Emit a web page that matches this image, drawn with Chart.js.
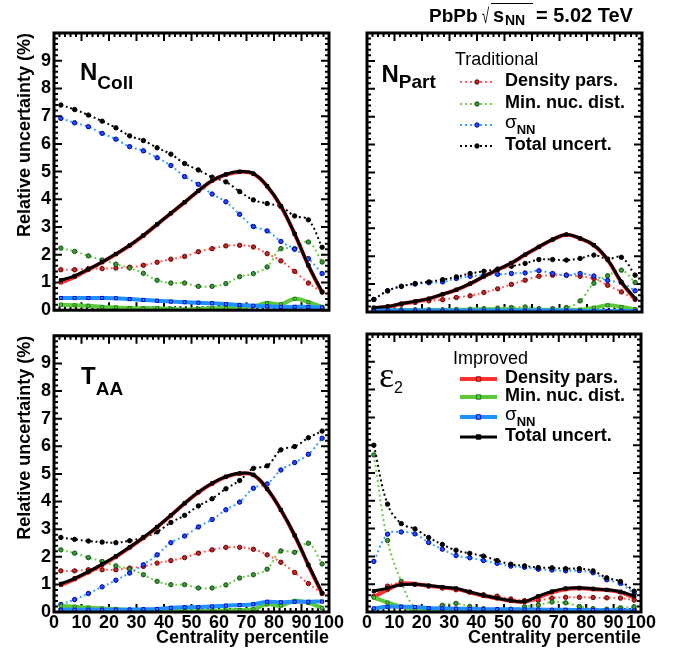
<!DOCTYPE html>
<html>
<head>
<meta charset="utf-8">
<title>Glauber uncertainties</title>
<script src="https://cdn.jsdelivr.net/npm/chart.js@4.4.0/dist/chart.umd.min.js"></script>
<style>
  body { margin: 0; background: #fff; }
  #wrap { position: relative; width: 681px; height: 652px; }
  canvas { position: absolute; }
</style>
</head>
<body>
<div id="wrap">
  <canvas id="ncoll" width="345" height="324" style="left:0;top:0"></canvas>
  <canvas id="npart" width="336" height="324" style="left:345px;top:0"></canvas>
  <canvas id="taa" width="345" height="330" style="left:0;top:322px"></canvas>
  <canvas id="ecc" width="336" height="330" style="left:345px;top:322px"></canvas>
</div>
<script>
// Centro de cada bin de centralidad (5%)
const centrality = [2.5, 7.5, 12.5, 17.5, 22.5, 27.5, 32.5, 37.5, 42.5, 47.5,
                    52.5, 57.5, 62.5, 67.5, 72.5, 77.5, 82.5, 87.5, 92.5, 97.5];
const xTickValues = [0, 10, 20, 30, 40, 50, 60, 70, 80, 90, 100];
const yTickValues = [0, 1, 2, 3, 4, 5, 6, 7, 8, 9];

const seriesNames = ['Density pars.', 'Min. nuc. dist.', 'σ', 'Total uncert.'];
const sigmaSub = 'NN';
const legendHeaders = ['Traditional', 'Improved'];

// N_coll
const ncollTradDensity = [1.46, 1.46, 1.50, 1.50, 1.52, 1.55, 1.62, 1.73, 1.84, 1.94, 2.11, 2.22, 2.32, 2.34, 2.28, 2.04, 1.78, 1.40, 0.98, 0.66];
const ncollTradMinDist = [2.24, 2.12, 1.96, 1.81, 1.66, 1.52, 1.33, 1.08, 0.98, 0.98, 0.86, 0.86, 0.96, 1.21, 1.32, 1.56, 2.22, 2.22, 2.46, 1.74];
const ncollTradSigma   = [6.92, 6.76, 6.62, 6.38, 6.17, 5.90, 5.75, 5.50, 5.22, 4.82, 4.54, 4.19, 3.91, 3.46, 3.02, 2.86, 2.48, 2.20, 1.86, 1.32];
const ncollTradTotal   = [7.40, 7.24, 7.04, 6.82, 6.58, 6.29, 6.12, 5.86, 5.63, 5.29, 5.06, 4.80, 4.63, 4.28, 3.98, 3.85, 3.74, 3.40, 3.26, 2.27];
const ncollImpDensity  = [1.00, 1.20, 1.46, 1.73, 2.02, 2.33, 2.69, 3.09, 3.49, 3.89, 4.30, 4.67, 4.89, 4.99, 4.92, 4.47, 3.75, 2.75, 1.61, 0.64];
const ncollImpMinDist  = [0.20, 0.18, 0.16, 0.12, 0.10, 0.08, 0.07, 0.07, 0.05, 0.02, 0.05, 0.07, 0.08, 0.12, 0.14, 0.26, 0.21, 0.41, 0.29, 0.12];
const ncollImpSigma    = [0.44, 0.44, 0.44, 0.44, 0.43, 0.40, 0.37, 0.34, 0.31, 0.29, 0.27, 0.25, 0.22, 0.19, 0.16, 0.14, 0.12, 0.12, 0.12, 0.10];
const ncollImpTotal    = [1.08, 1.24, 1.48, 1.74, 2.03, 2.34, 2.70, 3.10, 3.50, 3.90, 4.31, 4.68, 4.90, 5.00, 4.93, 4.48, 3.76, 2.76, 1.62, 0.66];

// N_part
const npartTradDensity = [0.12, 0.18, 0.28, 0.34, 0.40, 0.44, 0.52, 0.58, 0.70, 0.83, 0.99, 1.14, 1.28, 1.32, 1.32, 1.28, 1.20, 0.96, 0.72, 0.45];
const npartTradMinDist = [0.06, 0.07, 0.08, 0.08, 0.08, 0.08, 0.09, 0.10, 0.12, 0.14, 0.16, 0.18, 0.12, 0.12, 0.16, 0.40, 1.03, 1.30, 1.50, 1.06];
const npartTradSigma   = [0.45, 0.76, 0.92, 1.00, 1.05, 1.08, 1.20, 1.28, 1.32, 1.35, 1.38, 1.40, 1.48, 1.38, 1.32, 1.38, 1.29, 1.13, 1.05, 0.76];
const npartTradTotal   = [0.45, 0.76, 0.92, 1.02, 1.08, 1.16, 1.26, 1.38, 1.46, 1.54, 1.64, 1.74, 1.88, 1.88, 1.86, 1.92, 2.04, 1.90, 1.96, 1.32];
const npartImpDensity  = [0.14, 0.19, 0.29, 0.37, 0.47, 0.63, 0.79, 1.01, 1.27, 1.51, 1.75, 2.05, 2.33, 2.59, 2.77, 2.63, 2.39, 1.87, 1.06, 0.46];
const npartImpMinDist  = [0.06, 0.06, 0.06, 0.06, 0.07, 0.07, 0.08, 0.09, 0.10, 0.10, 0.09, 0.08, 0.07, 0.07, 0.07, 0.08, 0.15, 0.24, 0.18, 0.10];
const npartImpSigma    = [0.05, 0.05, 0.05, 0.05, 0.05, 0.05, 0.05, 0.05, 0.05, 0.05, 0.05, 0.05, 0.05, 0.05, 0.05, 0.04, 0.04, 0.04, 0.04, 0.04];
const npartImpTotal    = [0.16, 0.20, 0.30, 0.38, 0.48, 0.64, 0.80, 1.02, 1.28, 1.52, 1.76, 2.06, 2.34, 2.60, 2.78, 2.64, 2.40, 1.88, 1.08, 0.48];

// T_AA
const taaTradDensity = [1.49, 1.49, 1.53, 1.53, 1.53, 1.59, 1.65, 1.77, 1.86, 1.97, 2.13, 2.25, 2.34, 2.34, 2.27, 2.07, 1.80, 1.43, 1.03, 0.67];
const taaTradMinDist = [2.25, 2.13, 1.97, 1.83, 1.67, 1.55, 1.35, 1.11, 0.99, 0.99, 0.87, 0.87, 0.98, 1.23, 1.35, 1.55, 2.21, 2.16, 2.49, 1.74];
const taaTradSigma   = [0.27, 0.45, 0.67, 0.91, 1.15, 1.41, 1.71, 2.07, 2.51, 2.75, 3.08, 3.35, 3.70, 3.98, 4.48, 4.64, 5.14, 5.41, 5.71, 6.29];
const taaTradTotal   = [2.70, 2.63, 2.57, 2.53, 2.51, 2.58, 2.70, 2.90, 3.24, 3.50, 3.84, 4.10, 4.46, 4.76, 5.20, 5.29, 5.87, 5.99, 6.31, 6.55];
const taaImpDensity  = [0.98, 1.19, 1.44, 1.71, 2.00, 2.33, 2.68, 3.07, 3.49, 3.93, 4.33, 4.65, 4.89, 5.01, 4.96, 4.45, 3.69, 2.77, 1.69, 0.66];
const taaImpMinDist  = [0.22, 0.19, 0.16, 0.13, 0.11, 0.08, 0.06, 0.05, 0.04, 0.03, 0.03, 0.04, 0.05, 0.07, 0.10, 0.28, 0.23, 0.40, 0.33, 0.15];
const taaImpSigma    = [0.08, 0.08, 0.08, 0.08, 0.08, 0.09, 0.10, 0.11, 0.15, 0.17, 0.18, 0.20, 0.23, 0.25, 0.28, 0.37, 0.35, 0.37, 0.37, 0.38];
const taaImpTotal    = [1.02, 1.22, 1.46, 1.73, 2.02, 2.35, 2.70, 3.08, 3.50, 3.94, 4.34, 4.66, 4.90, 5.02, 4.97, 4.46, 3.70, 2.78, 1.71, 0.69];

// epsilon_2
const eccTradDensity = [0.57, 0.93, 1.05, 0.99, 0.93, 0.86, 0.80, 0.72, 0.62, 0.57, 0.47, 0.41, 0.42, 0.50, 0.53, 0.53, 0.52, 0.51, 0.50, 0.43];
const eccTradMinDist = [5.65, 2.57, 1.10, 0.15, 0.08, 0.24, 0.31, 0.20, 0.12, 0.08, 0.10, 0.19, 0.25, 0.36, 0.33, 0.20, 0.12, 0.10, 0.15, 0.19];
const eccTradSigma   = [1.82, 2.80, 2.88, 2.81, 2.50, 2.26, 2.03, 1.95, 1.85, 1.75, 1.65, 1.61, 1.54, 1.51, 1.48, 1.49, 1.41, 1.16, 1.03, 0.66];
const eccTradTotal   = [6.00, 3.88, 3.18, 2.99, 2.68, 2.43, 2.22, 2.11, 2.01, 1.85, 1.72, 1.66, 1.60, 1.59, 1.56, 1.56, 1.48, 1.23, 1.10, 0.75];
const eccImpDensity  = [0.54, 0.80, 1.02, 1.01, 0.94, 0.88, 0.83, 0.71, 0.58, 0.49, 0.40, 0.37, 0.53, 0.71, 0.82, 0.85, 0.82, 0.79, 0.71, 0.53];
const eccImpMinDist  = [0.52, 0.34, 0.19, 0.10, 0.09, 0.08, 0.07, 0.06, 0.05, 0.05, 0.04, 0.04, 0.04, 0.04, 0.04, 0.04, 0.04, 0.04, 0.04, 0.04];
const eccImpSigma    = [0.13, 0.19, 0.19, 0.18, 0.14, 0.13, 0.12, 0.11, 0.10, 0.10, 0.10, 0.09, 0.09, 0.08, 0.08, 0.07, 0.07, 0.06, 0.06, 0.05];
const eccImpTotal    = [0.75, 0.86, 0.98, 1.00, 0.95, 0.90, 0.85, 0.72, 0.60, 0.50, 0.41, 0.38, 0.57, 0.74, 0.85, 0.87, 0.84, 0.80, 0.73, 0.57];

// Colores: linea, relleno y borde del marcador
const tradLine = ['#ff5a5a', '#6fcc40', '#33a0ff', '#000000'];
const tradFill = ['#b82a2a', '#3a963a', '#1a4cff', '#000000'];
const tradMark = ['#6e0000', '#145214', '#0000a8', '#000000'];
const impLine  = ['#ff3030', '#5cc83a', '#1e90ff', '#000000'];
const impMark  = ['#a00000', '#1f7a1f', '#0000c0', '#000000'];

const sansFamily = '"Liberation Sans", Arial, Helvetica, sans-serif';
const bold = px => `bold ${px}px ${sansFamily}`;
const plain = px => `${px}px ${sansFamily}`;

Chart.defaults.font.family = sansFamily;
Chart.defaults.color = '#000';

const makeSets = (trad, imp) => {
    const sets = [];
    trad.forEach((vals, k) => {
        sets.push({
            label: 'Traditional ' + seriesNames[k],
            data: vals.map((v, i) => ({x: centrality[i], y: v})),
            borderColor: tradLine[k],
            borderWidth: 2,
            borderDash: [2, 3],
            pointStyle: 'circle',
            pointRadius: 2.2,
            pointBorderWidth: 1,
            pointBackgroundColor: tradFill[k],
            pointBorderColor: tradMark[k],
            tension: 0.4,
            order: 20 - k
        });
    });
    imp.forEach((vals, k) => {
        sets.push({
            label: 'Improved ' + seriesNames[k],
            data: vals.map((v, i) => ({x: centrality[i], y: v})),
            borderColor: impLine[k],
            borderWidth: k === 3 ? 3 : 4,
            pointStyle: 'rect',
            pointRadius: 2.2,
            pointBorderWidth: 1,
            pointBackgroundColor: impLine[k],
            pointBorderColor: impMark[k],
            tension: 0.4,
            order: 4 - k
        });
    });
    return sets;
};

// Marco grueso y ticks hacia dentro (estilo ROOT)
const framePlugin = {
    id: 'frame',
    beforeDatasetsDraw(chart) {
        const {ctx, chartArea: a, scales: {x, y}} = chart;
        ctx.save();
        ctx.strokeStyle = '#000';
        ctx.lineWidth = 2;
        ctx.beginPath();
        for (let v = 0; v <= 100; v += 2) {
            const px = x.getPixelForValue(v);
            const len = v % 10 === 0 ? 8 : 4;
            ctx.moveTo(px, a.bottom); ctx.lineTo(px, a.bottom - len);
            ctx.moveTo(px, a.top); ctx.lineTo(px, a.top + len);
        }
        for (let k = 0; k <= 50; k++) {
            const py = y.getPixelForValue(k / 5);
            const len = k % 5 === 0 ? 8 : 4;
            ctx.moveTo(a.left, py); ctx.lineTo(a.left + len, py);
            ctx.moveTo(a.right, py); ctx.lineTo(a.right - len, py);
        }
        ctx.stroke();
        ctx.restore();
    },
    afterDatasetsDraw(chart) {
        const {ctx, chartArea: a} = chart;
        ctx.save();
        ctx.strokeStyle = '#000';
        ctx.lineWidth = 3;
        ctx.strokeRect(a.left, a.top, a.right - a.left, a.bottom - a.top);
        ctx.restore();
    }
};

const drawMarker = (ctx, ds, cx, cy) => {
    ctx.fillStyle = ds.pointBackgroundColor;
    ctx.strokeStyle = ds.pointBorderColor;
    ctx.lineWidth = ds.pointBorderWidth;
    const r = ds.pointRadius;
    ctx.beginPath();
    if (ds.pointStyle === 'rect') ctx.rect(cx - r, cy - r, 2 * r, 2 * r);
    else ctx.arc(cx, cy, r, 0, Math.PI * 2);
    ctx.fill();
    ctx.stroke();
};

const drawLegend = (chart, lg) => {
    const {ctx, chartArea: a} = chart;
    ctx.fillStyle = '#000';
    ctx.textBaseline = 'alphabetic';
    ctx.font = plain(18);
    ctx.fillText(lg.header, a.left + lg.headerX, a.top + lg.headerY);
    seriesNames.forEach((name, k) => {
        const ds = chart.data.datasets[lg.first + k];
        const yy = a.top + lg.rows[k];
        const x0 = a.left + lg.lineX[0];
        const x1 = a.left + lg.lineX[1];
        ctx.save();
        ctx.strokeStyle = ds.borderColor;
        ctx.lineWidth = ds.borderWidth;
        ctx.setLineDash(ds.borderDash || []);
        ctx.beginPath();
        ctx.moveTo(x0, yy);
        ctx.lineTo(x1, yy);
        ctx.stroke();
        ctx.setLineDash([]);
        drawMarker(ctx, ds, (x0 + x1) / 2, yy);
        ctx.restore();

        ctx.fillStyle = '#000';
        ctx.textBaseline = 'middle';
        const tx = a.left + lg.textX;
        if (name === 'σ') {
            ctx.font = plain(19);
            ctx.fillText(name, tx, yy - 2);
            const w = ctx.measureText(name).width;
            ctx.font = bold(13);
            ctx.fillText(sigmaSub, tx + w, yy + 5);
        } else {
            ctx.font = bold(18);
            ctx.fillText(name, tx, yy - 1);
        }
    });
};

const drawTitle = (chart) => {
    const {ctx, chartArea: a} = chart;
    const x0 = a.left, y0 = a.top;
    ctx.fillStyle = '#000';
    ctx.textBaseline = 'alphabetic';
    ctx.font = bold(19);
    ctx.fillText('PbPb', x0 + 62, y0 - 11);
    // raiz cuadrada
    ctx.save();
    ctx.font = plain(20);
    ctx.translate(x0 + 115, y0 - 10);
    ctx.scale(0.65, 1.05);
    ctx.fillText('√', 0, 0);
    ctx.restore();
    ctx.save();
    ctx.strokeStyle = '#000';
    ctx.lineWidth = 1.2;
    ctx.beginPath();
    ctx.moveTo(x0 + 124, y0 - 29.5);
    ctx.lineTo(x0 + 166, y0 - 29.5);
    ctx.stroke();
    ctx.restore();
    ctx.font = bold(20);
    ctx.fillText('s', x0 + 126, y0 - 11);
    ctx.font = bold(14);
    ctx.fillText('NN', x0 + 138, y0 - 8);
    ctx.font = bold(20);
    ctx.fillText('= 5.02 TeV', x0 + 169, y0 - 11);
};

// Etiquetas de cada panel, leyendas y titulo
const annotPlugin = {
    id: 'annot',
    afterDraw(chart, args, opts) {
        const {ctx, chartArea: a} = chart;
        ctx.save();
        const p = opts.label;
        ctx.fillStyle = '#000';
        ctx.textBaseline = 'alphabetic';
        ctx.font = p.font;
        ctx.fillText(p.main, a.left + p.dx, a.top + p.dy);
        const w = ctx.measureText(p.main).width;
        ctx.font = p.subFont;
        ctx.fillText(p.sub, a.left + p.dx + w + p.gap, a.top + p.subDy);
        if (opts.legend) drawLegend(chart, opts.legend);
        if (opts.title) drawTitle(chart);
        ctx.restore();
    }
};

const axisX = (show) => ({
    type: 'linear', min: 0, max: 100, display: show,
    grid: {display: false, drawTicks: false},
    border: {display: false},
    afterBuildTicks: s => { s.ticks = xTickValues.map(v => ({value: v})); },
    ticks: {color: '#000', font: {size: 18, weight: 'bold'}, padding: 0, maxRotation: 0, autoSkip: false},
    title: {display: true, text: 'Centrality percentile', align: 'end', color: '#000',
            font: {size: 18, weight: 'bold'}, padding: {top: 0, bottom: 3}},
    afterFit: s => { s.height = show ? 40 : 0; }
});

const axisY = (show) => ({
    type: 'linear', min: 0, max: 10, display: show,
    grid: {display: false, drawTicks: false},
    border: {display: false},
    afterBuildTicks: s => { s.ticks = yTickValues.map(v => ({value: v})); },
    ticks: {color: '#000', font: {size: 18, weight: 'bold'}, padding: 3, autoSkip: false},
    title: {display: true, text: 'Relative uncertainty (%)', align: 'end', color: '#000',
            font: {size: 18, weight: 'bold'}, padding: {top: 14, bottom: 0}},
    afterFit: s => { s.width = show ? 54 : 0; }
});

const makePanel = (id, sets, opts) => {
    new Chart(document.getElementById(id), {
        type: 'line',
        data: {datasets: sets},
        options: {
            responsive: false,
            animation: false,
            events: [],
            layout: {padding: opts.padding},
            scales: {x: axisX(opts.showX), y: axisY(opts.showY)},
            plugins: {
                legend: {display: false},
                tooltip: {enabled: false},
                annot: opts.annot
            }
        },
        plugins: [framePlugin, annotPlugin]
    });
};

makePanel('ncoll',
    makeSets([ncollTradDensity, ncollTradMinDist, ncollTradSigma, ncollTradTotal],
             [ncollImpDensity, ncollImpMinDist, ncollImpSigma, ncollImpTotal]),
    {showX: false, showY: true, padding: {left: 0, top: 33, right: 16, bottom: 12},
     annot: {label: {main: 'N', sub: 'Coll', font: bold(24), subFont: bold(19), dx: 26, dy: 47, subDy: 56, gap: 0}}});

makePanel('npart',
    makeSets([npartTradDensity, npartTradMinDist, npartTradSigma, npartTradTotal],
             [npartImpDensity, npartImpMinDist, npartImpSigma, npartImpTotal]),
    {showX: false, showY: false, padding: {left: 22, top: 33, right: 39, bottom: 12},
     annot: {label: {main: 'N', sub: 'Part', font: bold(24), subFont: bold(19), dx: 14.5, dy: 49, subDy: 55, gap: 0},
             legend: {header: legendHeaders[0], first: 0, headerX: 88, headerY: 32,
                      rows: [49, 71, 92, 113], lineX: [93, 127], textX: 138},
             title: true}});

makePanel('taa',
    makeSets([taaTradDensity, taaTradMinDist, taaTradSigma, taaTradTotal],
             [taaImpDensity, taaImpMinDist, taaImpSigma, taaImpTotal]),
    {showX: true, showY: true, padding: {left: 0, top: 12, right: 16, bottom: 0},
     annot: {label: {main: 'T', sub: 'AA', font: bold(24), subFont: bold(19), dx: 27, dy: 48, subDy: 59, gap: 0}}});

makePanel('ecc',
    makeSets([eccTradDensity, eccTradMinDist, eccTradSigma, eccTradTotal],
             [eccImpDensity, eccImpMinDist, eccImpSigma, eccImpTotal]),
    {showX: true, showY: false, padding: {left: 22, top: 12, right: 40, bottom: 0},
     annot: {label: {main: 'ε', sub: '2', font: '36px "Liberation Serif", "DejaVu Serif", serif',
                     subFont: plain(16), dx: 12, dy: 53, subDy: 59, gap: 0},
             legend: {header: legendHeaders[1], first: 4, headerX: 86, headerY: 30,
                      rows: [45, 63, 83, 103], lineX: [93, 130], textX: 138}}});
</script>
</body>
</html>
